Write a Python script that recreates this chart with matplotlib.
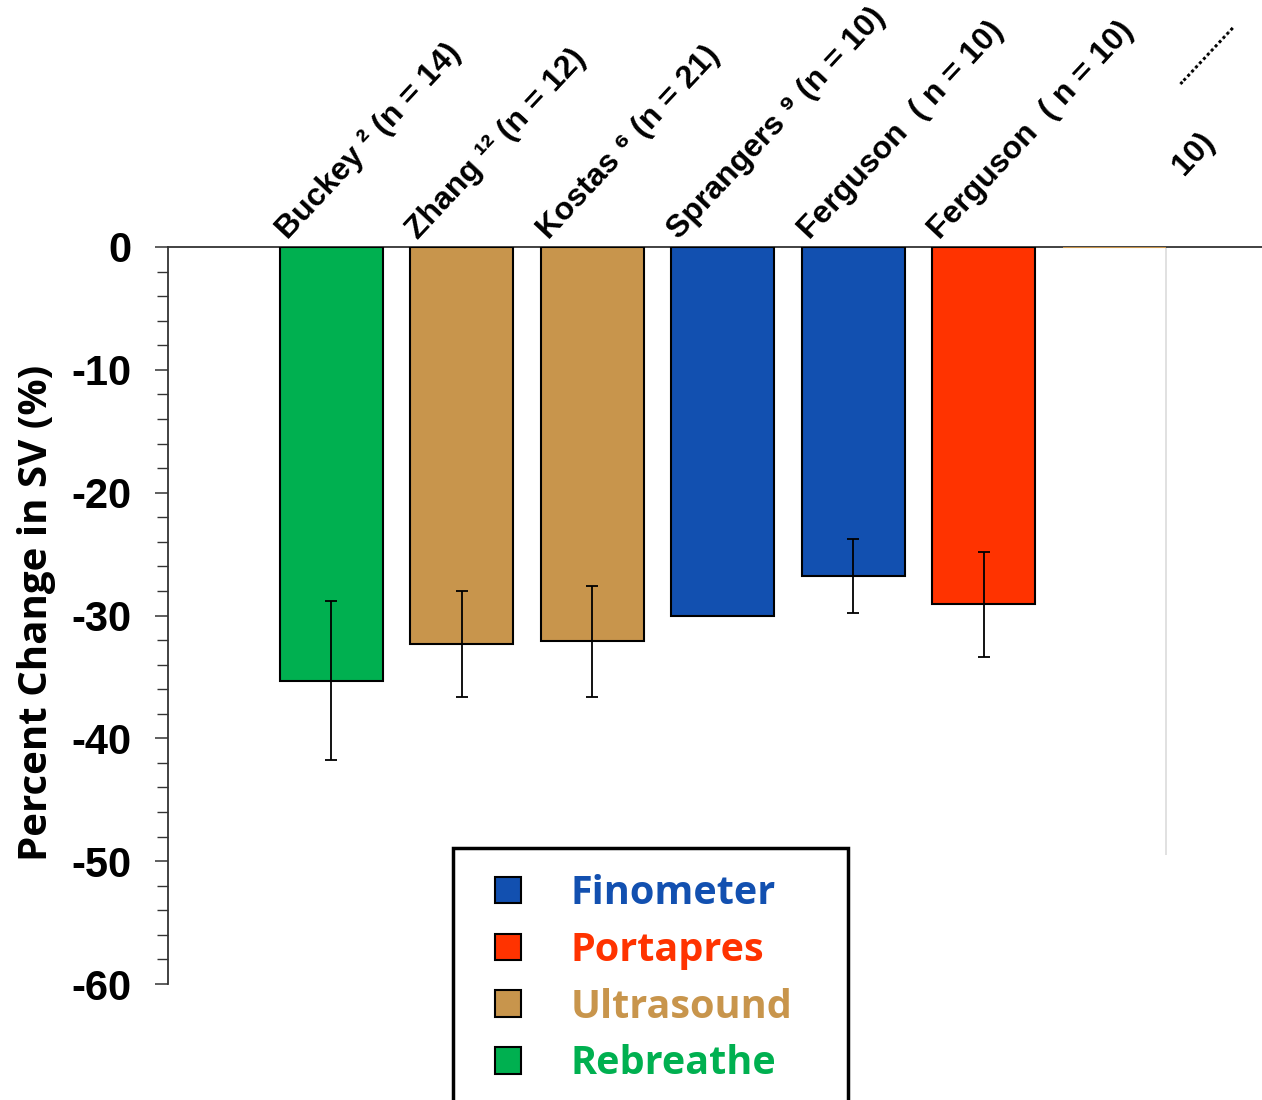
import numpy as np
import matplotlib.pyplot as plt
from matplotlib.patches import Patch, Rectangle

# %% Data
labels = ["Buckey \u00b2 (n = 14)", "Zhang \u00b9\u00b2 (n = 12)", "Kostas \u2076 (n = 21)",
          "Sprangers \u2079 (n = 10)", "Ferguson  ( n = 10)", "Ferguson  ( n = 10)", ""]
sv_change = [-35.3, -32.3, -32.1, -30.0, -26.8, -29.1, 0.0]
sv_err = [6.5, 4.3, 4.5, np.nan, 3.0, 4.3, np.nan]
method = ["Rebreathe", "Ultrasound", "Ultrasound", "Finometer", "Finometer", "Portapres", "Ultrasound"]

method_colors = {
    "Finometer": "#1250b0",
    "Portapres": "#ff3300",
    "Ultrasound": "#c8954c",
    "Rebreathe": "#00b050",
}
legend_order = ["Finometer", "Portapres", "Ultrasound", "Rebreathe"]

y_ticks = [0, -10, -20, -30, -40, -50, -60]
ghost_line_bottom = -49.5

# %% Plot
plt.rcParams["font.family"] = ["Liberation Sans", "DejaVu Sans"]
W, H = 1262, 1100
fig = plt.figure(figsize=(W / 100, H / 100), dpi=100)
ax = fig.add_axes([168 / W, 1 - 984 / H, 1 - 168 / W, (984 - 247) / H])

x = np.arange(len(sv_change))
bar_w = 0.79
colors = [method_colors[m] for m in method]
edges = ["black"] * (len(x) - 1) + [method_colors[method[-1]]]
ax.bar(x, sv_change, width=bar_w, color=colors, edgecolor=edges, linewidth=1.5, zorder=3)
ax.errorbar(x, sv_change, yerr=sv_err, fmt="none", ecolor="black", elinewidth=1.3,
            capsize=4.5, capthick=1.3, zorder=4)

# faint line left over at the right of the last bar
ax.vlines(x[-1] + bar_w / 2, ghost_line_bottom, 0, color="#dcdcdc", linewidth=1.2, zorder=2)

ax.set_xlim(-1.25, 7.13)
ax.set_ylim(-60, 0)
ax.set_yticks(y_ticks)
ax.set_yticklabels([str(t) for t in y_ticks])
ax.set_yticks(np.arange(-60, 0, 2), minor=True)
ax.set_xticks([])
ax.tick_params(axis="y", which="major", direction="out", length=9.5, width=1.1,
               pad=17, labelsize=30, color="#333333")
ax.tick_params(axis="y", which="minor", direction="out", length=8, width=1.0, color="#333333")
for t in ax.get_yticklabels():
    t.set_fontweight("bold")

ax.spines["right"].set_visible(False)
ax.spines["bottom"].set_visible(False)
ax.spines["top"].set_color("#333333")
ax.spines["left"].set_color("#333333")
ax.spines["top"].set_linewidth(1.3)
ax.spines["left"].set_linewidth(1.3)

# rotated category labels above the zero line
for i, lab in enumerate(labels):
    if lab:
        ax.text(i - bar_w / 2 + 0.06, 0.55, lab, rotation=47, rotation_mode="anchor",
                ha="left", va="baseline", fontsize=23, fontweight="bold", clip_on=False)
ax.text(6.57, 5.4, "10)", rotation=47, rotation_mode="anchor", ha="left", va="bottom",
        fontsize=23, fontweight="bold", clip_on=False)
ax.text(6.53, 13.0, "..............", rotation=47, rotation_mode="anchor", ha="left",
        va="bottom", fontsize=15, fontweight="bold", clip_on=False)

fig.text(37 / W, 1 - 613 / H, "Percent Change in SV (%)", rotation=90,
         ha="center", va="center", fontsize=29, fontweight="bold",
         family=["Open Sans", "DejaVu Sans"])

# legend: items placed by the legend, frame drawn as its own box (runs off the bottom)
handles = [Patch(facecolor=method_colors[m], edgecolor="black", linewidth=1.5) for m in legend_order]
leg = ax.legend(handles, legend_order, loc="upper left",
                bbox_to_anchor=(495 / W, 1 - 874 / H), bbox_transform=fig.transFigure,
                borderaxespad=0, borderpad=0, frameon=False, handlelength=0.66,
                handleheight=0.66, handletextpad=1.24, labelspacing=0.45,
                prop={"family": ["Open Sans", "DejaVu Sans"], "weight": "bold", "size": 28.5})
for txt, m in zip(leg.get_texts(), legend_order):
    txt.set_color(method_colors[m])
fig.patches.append(Rectangle((453 / W, -0.01), (848 - 453) / W, 0.01 + (H - 848) / H,
                             transform=fig.transFigure, facecolor="none",
                             edgecolor="black", linewidth=2.5, clip_on=False))

fig.savefig("out.png", dpi=100)
